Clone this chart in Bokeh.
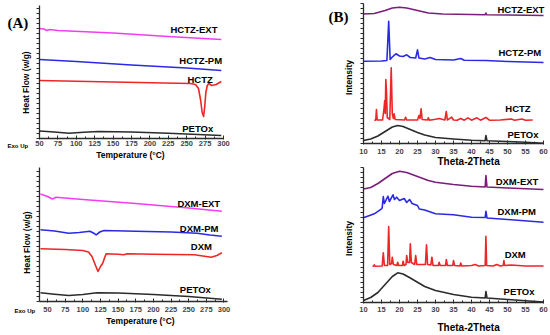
from math import pi
from bokeh.plotting import figure
from bokeh.layouts import column, row
from bokeh.models import Label, FixedTicker, Range1d
from bokeh.embed import file_html
from bokeh.resources import INLINE

# ---------------- DATA ----------------
dsc_ticks = [50, 75, 100, 125, 150, 175, 200, 225, 250, 275, 300]
dsc_minor = [62.5, 87.5, 112.5, 137.5, 162.5, 187.5, 212.5, 237.5, 262.5, 287.5]
xrd_ticks = [10, 15, 20, 25, 30, 35, 40, 45, 50, 55, 60]
xrd_minor = [12.5, 17.5, 22.5, 27.5, 32.5, 37.5, 42.5, 47.5, 52.5, 57.5]

hctz_names = ["HCTZ-EXT", "HCTZ-PM", "HCTZ", "PETOx"]
dxm_names = ["DXM-EXT", "DXM-PM", "DXM", "PETOx"]

# Panel A: DSC (temperature, relative heat flow)
a_ext_t = [50, 56, 60, 64, 75, 150, 225, 297]
a_ext_h = [110, 109.5, 108, 109, 108, 105.5, 102, 99]
a_pm_t = [50, 100, 175, 250, 297]
a_pm_h = [79, 77, 73.5, 70.5, 68]
a_api_t = [50, 150, 255, 262, 266, 269, 271, 273, 274.5, 276, 278, 280, 284, 290, 297]
a_api_h = [58, 56.5, 55, 54, 50, 38, 26, 22, 32, 46, 53, 55, 53, 54, 57]
a_pol_t = [50, 70, 90, 110, 130, 175, 225, 297]
a_pol_h = [7.5, 6.5, 5.3, 6.3, 7, 6.5, 5.2, 3]

# Panel C: DSC
c_ext_t = [40, 50, 57, 62, 100, 175, 250, 297]
c_ext_h = [107.5, 105, 102.5, 104.3, 102, 98, 93.5, 90.3]
c_pm_t = [40, 60, 80, 95, 110, 115, 119, 124, 130, 175, 225, 262, 280, 297]
c_pm_h = [71.7, 70.5, 68.3, 69, 70.3, 68.5, 66.7, 69.5, 71, 70.3, 69.5, 68.3, 66.5, 65.3]
c_api_t = [40, 75, 100, 108, 113, 118, 121.5, 125, 128, 131, 133, 150, 158, 163, 200, 258, 270, 282, 290, 297]
c_api_h = [52.7, 52, 51, 49.5, 45, 36, 30, 35, 38, 44, 47.7, 47.2, 46.7, 47.7, 47.3, 46.7, 45.5, 44.3, 46, 48.7]
c_pol_t = [40, 60, 80, 100, 120, 150, 200, 250, 297]
c_pol_h = [8.7, 7.3, 6, 7, 8.7, 8.5, 7, 5, 2.3]

# Panel B: XRD (2theta, relative intensity)
b_ext_x = [10, 13, 16, 18, 20, 22, 25, 28, 32, 40, 43.8, 44, 44.2, 50, 60]
b_ext_i = [129.5, 130, 133, 135.5, 136.3, 135.5, 133, 130.5, 129.5, 129, 128.8, 130.5, 128.8, 128.5, 128]
b_pm_x = [10, 15, 16.5, 17.0, 17.4, 18, 19, 20, 21, 22, 23, 24.5, 25, 25.4, 27, 28.5, 30, 35, 37, 38, 44, 50, 60]
b_pm_i = [82.3, 82.5, 83, 122.3, 84, 86.5, 89.7, 87.5, 87, 88.7, 86, 85.5, 93.7, 85.5, 84.5, 86, 84, 83.5, 85, 83.2, 83, 82, 81]
b_api_x = [13, 13.4, 13.6, 13.8, 15.3, 15.7, 15.9, 16.05, 16.2, 16.4, 16.6, 17.3, 17.7, 18.0, 18.3, 18.5, 18.8,
           21.4, 21.7, 22, 25, 25.4, 25.7, 26, 26.3, 27.8, 28, 28.3, 30, 31, 32.6, 33, 33.3, 34.5, 35,
           36, 37, 38, 39, 40, 41.5, 42.5, 44, 45, 48, 51, 52, 54, 55, 57]
b_api_i = [23, 23.5, 34, 23.5, 23.5, 35, 43, 30, 64, 51, 26, 24, 75.7, 30, 25, 29.7, 24,
           23.5, 26.3, 23.5, 23.5, 28, 25, 34.7, 24, 23.5, 25.7, 23.3, 24.3, 25, 23.5, 32, 23.5, 26.3, 23.5,
           23.3, 25, 23.3, 25.7, 23.3, 25.7, 23.3, 26, 23.3, 23.5, 24.5, 23.3, 24.5, 23.3, 23.5]
b_pol_x = [10, 12, 14, 16, 18, 19.5, 21, 23, 25, 27, 30, 35, 40, 43.8, 44, 44.3, 50, 55, 60]
b_pol_i = [3, 4.5, 7.5, 12, 16.5, 18, 17, 14, 11, 8.5, 6, 4.5, 3.3, 2.8, 8, 2.8, 2, 1.2, 0.3]

# Panel D: XRD
d_ext_x = [10, 12, 14, 16, 18, 20, 22, 25, 28, 30, 35, 40, 43.8, 44, 44.3, 50, 60]
d_ext_i = [113.5, 115, 119, 124, 129, 131.3, 130, 126, 122, 120.3, 118, 116.3, 115.5, 127, 115.5, 114.5, 113]
d_pm_x = [10, 13, 15, 15.2, 15.5, 15.8, 16.8, 17.2, 18.2, 18.6, 19.2, 20, 21.3, 22, 22.8, 23.5, 25, 25.5, 27, 30,
          35, 40, 43.8, 44, 44.3, 50, 60]
d_pm_i = [84.7, 88.7, 93.7, 95, 106, 99, 106.3, 101, 107.7, 103, 105.3, 102, 104, 100, 103, 99, 97, 93.5, 92.5, 88.7,
          87.7, 85.3, 85, 91.3, 84.5, 83, 80.3]
d_api_x = [12.5, 12.8, 13, 13.2, 15.2, 15.5, 15.8, 16.7, 17, 17.3, 17.8, 18, 18.3, 19.3, 19.5, 19.8, 20.8, 21, 21.3,
           21.8, 22, 22.3, 22.8, 23, 23.3, 24.2, 24.5, 24.8, 27.2, 27.5, 27.8, 28.7, 29, 29.3, 30.8, 31, 31.3,
           32.8, 33, 33.3, 34.8, 35, 35.3, 36.8, 37, 37.3, 40, 41, 42, 43.8, 44, 44.2, 46, 47, 48, 48.8, 49,
           49.2, 51, 55, 60]
d_api_i = [36.3, 36.3, 37.7, 36.3, 36.5, 49.7, 37, 37, 76, 38, 39, 45.3, 38, 37, 40.3, 37, 37, 41.3, 37,
           38, 47, 40, 40, 58.7, 40, 38, 47, 38, 38, 57.7, 38, 37.5, 45.3, 37, 37, 40.3, 37,
           37, 43, 37, 37, 42, 37, 36.5, 39.5, 36.5, 37, 38, 36.5, 37, 66.3, 37, 36.5, 38, 36.5, 37, 42,
           37, 37.5, 36.5, 36.5]
d_pol_x = [10, 12, 14, 16, 18, 19.5, 21, 23, 25, 27, 30, 35, 40, 43.8, 44, 44.3, 50, 55, 60]
d_pol_i = [2, 5, 10, 18, 26, 29.7, 28.5, 24.5, 20.3, 16, 12, 8, 5.3, 4.5, 11, 4.5, 3, 1.8, 0.5]

# ---------------- STYLE ----------------
FONT = "Liberation Sans"
MAGENTA, BLUE, RED, BLACK, PURPLE = "#f23ef2", "#2a2ae6", "#ee2626", "#2b2b2b", "#7a1e7a"


def make_panel(w, h, xr, yr, xb, yb, ticks, minor, standoff):
    p = figure(width=w, height=h, output_backend="svg", toolbar_location=None,
               x_range=Range1d(*xr), y_range=Range1d(*yr),
               min_border_left=0, min_border_right=0, min_border_top=0, min_border_bottom=0)
    p.outline_line_color = None
    p.grid.visible = False
    p.background_fill_color = "white"
    p.border_fill_color = "white"
    xa, ya = p.xaxis[0], p.yaxis[0]
    # axes drawn at fixed data positions, limited to their data bounds
    xa.fixed_location = yb[0]
    xa.bounds = xb
    ya.fixed_location = xb[0]
    ya.bounds = yb
    xa.ticker = FixedTicker(ticks=ticks, minor_ticks=minor)
    xa.major_label_text_font = FONT
    xa.major_label_text_font_style = "bold"
    xa.major_label_text_font_size = "7.5px"
    xa.major_label_standoff = standoff
    xa.major_tick_in = 3
    xa.major_tick_out = 1
    xa.minor_tick_in = 2
    xa.minor_tick_out = 0
    ysteps = [yb[0] + 5 * k for k in range(int((yb[1] - yb[0]) // 5) + 1)]
    ya.ticker = FixedTicker(ticks=[], minor_ticks=ysteps)
    ya.minor_tick_in = 0
    ya.minor_tick_out = 3
    for ax in (xa, ya):
        ax.axis_line_width = 1.3
        ax.axis_line_color = BLACK
        ax.major_tick_line_color = BLACK
        ax.minor_tick_line_color = BLACK
    return p


def lab(p, x, y, text, size, align="left", angle=0, font=FONT):
    p.add_layout(Label(x=x, y=y, text=text, text_font=font,
                       text_font_style="bold", text_font_size=size, text_align=align,
                       text_baseline="middle", angle=angle, text_color="black"))


# Panel A
pA = make_panel(275, 166, (-2.99, 370.65), (-28, 138), (50, 300), (0, 133), dsc_ticks, dsc_minor, 1)
for xs, ys, c in [(a_ext_t, a_ext_h, MAGENTA), (a_pm_t, a_pm_h, BLUE), (a_api_t, a_api_h, RED), (a_pol_t, a_pol_h, BLACK)]:
    pA.line(xs, ys, line_color=c, line_width=1.6, line_join="round")
for name, x, y in zip(hctz_names, [228, 240, 251, 244], [109, 78, 59, 10]):
    lab(pA, x, y, name, "9.5px")
lab(pA, 6.5, 116, "(A)", "15px", font="Liberation Serif")
lab(pA, 32.3, 56, "Heat Flow (w/g)", "8.5px", align="center", angle=pi / 2)
lab(pA, 6.5, -7, "Exo Up", "6px")
lab(pA, 173.6, -16, "Temperature (°C)", "8.5px", align="center")

# Panel B
pB = make_panel(275, 166, (-14.44, 61.94), (-23, 143), (10, 60), (0, 140), xrd_ticks, xrd_minor, 4)
for xs, ys, c in [(b_ext_x, b_ext_i, PURPLE), (b_pm_x, b_pm_i, BLUE), (b_api_x, b_api_i, RED), (b_pol_x, b_pol_i, BLACK)]:
    pB.line(xs, ys, line_color=c, line_width=1.6, line_join="round")
for name, x, y in zip(hctz_names, [47.2, 47.5, 49.4, 50], [134, 91, 35, 9]):
    lab(pB, x, y, name, "9.5px")
lab(pB, 0.3, 127, "(B)", "15px", font="Liberation Serif")
lab(pB, 6.1, 66, "Intensity", "8.5px", align="center", angle=pi / 2)
lab(pB, 39.2, -18, "Theta-2Theta", "10px", align="center")

# Panel C
pC = make_panel(275, 169, (-16.66, 373.0), (-34, 135), (38.6, 305), (0, 134), dsc_ticks, dsc_minor, 4)
for xs, ys, c in [(c_ext_t, c_ext_h, MAGENTA), (c_pm_t, c_pm_h, BLUE), (c_api_t, c_api_h, RED), (c_pol_t, c_pol_h, BLACK)]:
    pC.line(xs, ys, line_color=c, line_width=1.6, line_join="round")
for name, x, y in zip(dxm_names, [234, 237.5, 253, 237.5], [97.7, 73.3, 55.3, 12]):
    lab(pC, x, y, name, "9.5px")
lab(pC, 20.2, 59, "Heat Flow (w/g)", "8.5px", align="center", angle=pi / 2)
lab(pC, 3.2, -9, "Exo Up", "6px")
lab(pC, 181.7, -19, "Temperature (°C)", "8.5px", align="center")

# Panel D
pD = make_panel(275, 169, (-14.44, 61.94), (-33, 136), (10, 60), (0, 135), xrd_ticks, xrd_minor, 3)
for xs, ys, c in [(d_ext_x, d_ext_i, PURPLE), (d_pm_x, d_pm_i, BLUE), (d_api_x, d_api_i, RED), (d_pol_x, d_pol_i, BLACK)]:
    pD.line(xs, ys, line_color=c, line_width=1.6, line_join="round")
for name, x, y in zip(dxm_names, [46.7, 47.2, 49.2, 48.9], [121, 91, 48, 11]):
    lab(pD, x, y, name, "9.5px")
lab(pD, 6.1, 64, "Intensity", "8.5px", align="center", angle=pi / 2)
lab(pD, 39.2, -25, "Theta-2Theta", "10px", align="center")

layout = column(row(pA, pB), row(pC, pD))
open("out.html", "w").write(file_html(layout, INLINE))
